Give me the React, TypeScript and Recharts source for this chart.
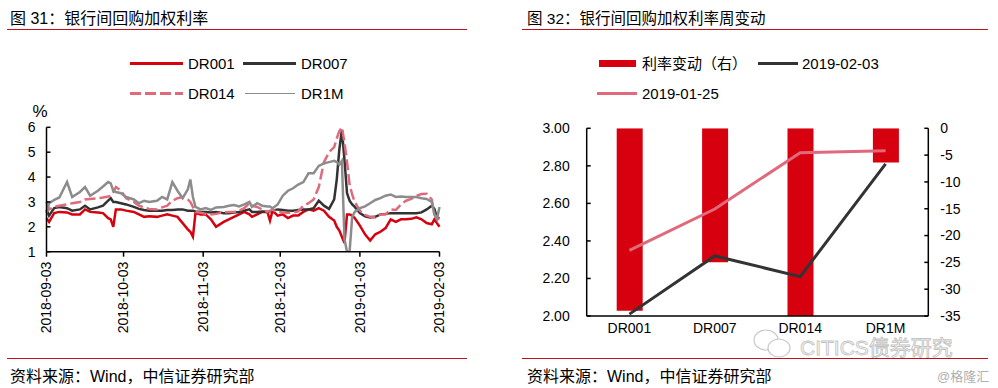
import { Bar, ComposedChart, Line, LineChart, XAxis, YAxis } from 'recharts'

const FONT = '"Liberation Sans", Arial, "Noto Sans CJK SC", sans-serif'
const RED = '#d7000f'
const DARK = '#333333'
const PINK = '#e06a7c'
const GREY = '#8c8c8c'
const RULE = '#c0101a'

// 图31: day offsets from 2018-09-03
const dateTicks = [0, 30, 61, 91, 122, 153]
const dateLabels = ['2018-09-03', '2018-10-03', '2018-11-03', '2018-12-03', '2019-01-03', '2019-02-03']
const rateTicks = [1, 2, 3, 4, 5, 6]

const days = [
  0, 1, 3, 5, 8, 10, 13, 15, 17, 20,
  22, 24, 25, 26, 27, 29, 31, 34, 36, 38,
  40, 43, 45, 47, 49, 51, 53, 55, 56, 57,
  58, 60, 62, 64, 66, 69, 71, 73, 75, 77,
  79, 80, 82, 84, 86, 87, 88, 90, 92, 94,
  96, 98, 100, 102, 104, 106, 108, 110, 112, 113,
  114, 115, 116, 117, 118, 119, 120, 122, 124, 126,
  128, 130, 132, 134, 136, 138, 140, 142, 144, 146,
  148, 150, 151, 152, 153,
]

const dr001 = [
  2.35, 2.2, 2.55, 2.6, 2.58, 2.5, 2.5, 2.7, 2.6, 2.58,
  2.55, 2.35, 2.3, 2.0, 2.7, 2.7, 2.65, 2.6, 2.5, 2.4,
  2.42, 2.4, 2.45, 2.5, 2.45, 2.4, 2.15, 1.9, 1.8, 1.6,
  2.55, 2.5, 2.5, 2.3, 2.0, 2.2, 2.3, 2.4, 2.5, 2.6,
  2.5, 2.4, 2.5, 2.6, 2.6, 2.25, 2.65, 2.45, 2.5, 2.35,
  2.45, 2.45, 2.6, 2.7, 2.65, 2.75, 2.65, 2.4, 2.25, 2.0,
  1.85, 1.6, 1.35, 2.5, 2.5, 2.45, 2.35, 2.05, 1.7, 1.45,
  1.7, 1.8, 1.95, 2.3, 2.2, 2.3, 2.3, 2.32, 2.38, 2.3,
  2.15, 2.1, 2.3, 2.15, 2.0,
]

const dr007 = [
  2.7, 2.45, 2.75, 2.8, 2.75, 2.65, 2.7, 2.85, 2.7, 2.78,
  2.85, 3.05, 3.15, 3.0, 3.0, 2.95, 2.9, 2.8, 2.72, 2.68,
  2.65, 2.65, 2.65, 2.68, 2.68, 2.7, 2.7, 2.65, 2.65, 2.65,
  2.62, 2.6, 2.6, 2.58, 2.6, 2.55, 2.55, 2.58, 2.6, 2.65,
  2.7, 2.6, 2.6, 2.62, 2.6, 2.62, 2.65, 2.7, 2.68, 2.65,
  2.65, 2.68, 2.7, 2.7, 2.75, 3.05, 2.85, 2.72, 3.1, 3.9,
  5.1, 5.9, 4.7, 3.35, 3.05, 2.9, 2.8, 2.55, 2.42, 2.38,
  2.4, 2.5, 2.52, 2.55, 2.55, 2.55, 2.55, 2.55, 2.55, 2.58,
  2.7, 2.85, 2.72, 2.38, 2.35,
]

const dr014 = [
  3.0, 2.7, 2.8, 2.85, 2.9, 2.95, 3.0, 3.1, 3.12, 3.15,
  3.18, 3.22, 3.25, 3.4, 3.6, 3.45, 3.15, 3.0, 2.85, 2.78,
  2.72, 2.7, 2.78, 2.85, 3.05, 3.15, 3.2, 3.1, 3.0, 2.8,
  2.6, 2.57, 2.52, 2.5, 2.52, 2.58, 2.6, 2.6, 2.65, 2.75,
  2.95, 2.85, 2.8, 2.7, 2.6, 2.65, 2.68, 2.6, 2.58, 2.57,
  2.57, 2.62, 2.85, 2.95, 3.1, 3.6, 4.6, 5.0, 5.2, 5.55,
  5.85, 6.0, 5.4, 4.6, 3.7, 3.3, 3.0, 2.65, 2.48, 2.4,
  2.38, 2.5, 2.5, 2.7, 2.68, 2.9, 3.05, 3.12, 3.25, 3.32,
  3.33, 3.1, 2.5, 2.35, 2.3,
]

const dr1m = [
  2.55, 2.95, 3.08, 3.18, 3.8, 3.2, 3.4, 3.6, 3.25, 3.45,
  3.62, 3.8, 3.75, 3.45, 3.4, 3.35, 3.2, 3.1, 2.95, 3.05,
  3.0, 3.05, 3.2, 3.1, 3.8, 3.45, 3.15, 3.5, 3.9, 3.2,
  2.8, 2.7, 2.75, 2.68, 2.78, 2.8, 2.85, 2.88, 2.82, 2.9,
  3.0, 2.8, 2.95, 2.85, 2.82, 2.82, 2.75, 2.9, 3.25, 3.45,
  3.55, 3.7, 3.8, 4.15, 4.15, 4.45, 4.55, 4.6, 4.65, 4.6,
  4.5, 4.65, 1.5, 1.0, 1.0, 2.4, 2.6, 2.75, 2.82, 2.95,
  3.08, 3.15, 3.25, 3.3, 3.2, 3.22, 3.2, 3.2, 3.2, 3.15,
  3.12, 3.0, 2.5, 2.3, 2.8,
]

// 图32
const weeklyCats = ['DR001', 'DR007', 'DR014', 'DR1M']
const weeklyChange = [-34, -25, -66, -6.4]
const rateFeb03 = [2.01, 2.32, 2.21, 2.81]
const rateJan25 = [2.35, 2.57, 2.87, 2.88]
const leftTicks = [2, 2.2, 2.4, 2.6, 2.8, 3]
const rightTicks = [-35, -30, -25, -20, -15, -10, -5, 0]

const trendRows = days.map((day, i) => ({
  day,
  dr001: dr001[i],
  dr007: dr007[i],
  dr014: dr014[i],
  dr1m: dr1m[i],
}))

const weeklyRows = weeklyCats.map((name, i) => ({
  name,
  change: weeklyChange[i],
  feb03: rateFeb03[i],
  jan25: rateJan25[i],
}))

const LeftTick = ({ x, y, payload, gap, fmt }: any) => (
  <g>
    <line x1={x + gap} x2={x + gap + 4} y1={y} y2={y} stroke="#000" strokeWidth={1.5} />
    <text x={x} y={y} dy="0.35em" textAnchor="end" fontSize={14} fontFamily={FONT} fill="#000">
      {fmt ? fmt(payload.value) : payload.value}
    </text>
  </g>
)

const RightTick = ({ x, y, payload, gap }: any) => (
  <g>
    <line x1={x - gap - 4} x2={x - gap} y1={y} y2={y} stroke="#000" strokeWidth={1.5} />
    <text x={x} y={y} dy="0.35em" textAnchor="start" fontSize={14} fontFamily={FONT} fill="#000">
      {payload.value}
    </text>
  </g>
)

const DateTick = ({ x, y, payload }: any) => (
  <text
    x={x}
    y={y}
    dy="0.35em"
    textAnchor="end"
    transform={`rotate(-90, ${x}, ${y})`}
    fontSize={14}
    fontFamily={FONT}
    fill="#000">
    {dateLabels[dateTicks.indexOf(payload.value)]}
  </text>
)

const Overlay = () => (
  <svg
    width={998}
    height={388}
    style={{ position: 'absolute', left: 0, top: 0, pointerEvents: 'none' }}
    fontFamily={FONT}>
    {/* titles */}
    <text x={10} y={24} fontSize={16} fill="#000">图 31：银行间回购加权利率</text>
    <line x1={7} x2={467} y1={29.5} y2={29.5} stroke={RULE} strokeWidth={1.2} />
    <text x={527} y={24} fontSize={15.5} fill="#000">图 32：银行间回购加权利率周变动</text>
    <line x1={522} x2={988} y1={29.5} y2={29.5} stroke={RULE} strokeWidth={1.2} />

    {/* left legend */}
    <line x1={130} x2={183} y1={63.5} y2={63.5} stroke={RED} strokeWidth={3} />
    <text x={188} y={69} fontSize={15} fill="#000">DR001</text>
    <line x1={243} x2={296} y1={63.5} y2={63.5} stroke={DARK} strokeWidth={3} />
    <text x={301} y={69} fontSize={15} fill="#000">DR007</text>
    <line x1={130} x2={183} y1={93.5} y2={93.5} stroke={PINK} strokeWidth={3} strokeDasharray="11 4" />
    <text x={188} y={99} fontSize={15} fill="#000">DR014</text>
    <line x1={245} x2={295} y1={93.5} y2={93.5} stroke={GREY} strokeWidth={1} />
    <text x={301} y={99} fontSize={15} fill="#000">DR1M</text>
    <text x={40} y={117} fontSize={17} textAnchor="middle" fill="#000">%</text>

    {/* right legend */}
    <rect x={599} y={60} width={37} height={7} fill={RED} />
    <text x={642} y={69} fontSize={15} fill="#000">利率变动（右）</text>
    <line x1={758} x2={798} y1={63.5} y2={63.5} stroke={DARK} strokeWidth={3} />
    <text x={802} y={69} fontSize={15} fill="#000">2019-02-03</text>
    <line x1={597} x2={637} y1={93.5} y2={93.5} stroke={PINK} strokeWidth={3} />
    <text x={642} y={99} fontSize={15} fill="#000">2019-01-25</text>

    {/* watermark */}
    <ellipse cx={766} cy={340} rx={12} ry={10} fill="none" stroke="#c8c8c8" strokeWidth={1.2} />
    <ellipse cx={779} cy={348} rx={11} ry={9} fill="#fff" stroke="#c8c8c8" strokeWidth={1.2} />
    <text x={800} y={355} fontSize={21} fill="#fff" stroke="#c4c4c4" strokeWidth={0.9}>CITICS债券研究</text>

    {/* footers */}
    <line x1={7} x2={467} y1={358.5} y2={358.5} stroke={RULE} strokeWidth={1.2} />
    <text x={10} y={381.5} fontSize={16} fill="#000">资料来源：Wind，中信证券研究部</text>
    <line x1={522} x2={988} y1={358.5} y2={358.5} stroke={RULE} strokeWidth={1.2} />
    <text x={527} y={381.5} fontSize={16} fill="#000">资料来源：Wind，中信证券研究部</text>
    <text x={937} y={381} fontSize={13} fill="#b0b0b0">@格隆汇</text>
  </svg>
)

const App = () => {
  return (
    <div style={{ position: 'absolute', left: 0, top: 0, width: 998, height: 388, background: '#fff' }}>
      <div style={{ position: 'absolute', left: 0, top: 0 }}>
        <LineChart
          width={470}
          height={345}
          data={trendRows}
          margin={{ top: 127.3, right: 30.5, bottom: 13.3, left: 6.5 }}>
          <XAxis
            dataKey="day"
            type="number"
            domain={[0, 153]}
            ticks={dateTicks}
            height={80}
            axisLine={{ stroke: '#000', strokeWidth: 1.5 }}
            tickLine={{ stroke: '#000', strokeWidth: 1.5 }}
            tickSize={5}
            tickMargin={5}
            interval={0}
            tick={DateTick}
          />
          <YAxis
            type="number"
            domain={[1, 6]}
            ticks={rateTicks}
            width={40}
            axisLine={{ stroke: '#000', strokeWidth: 1.5 }}
            tickLine={false}
            tickSize={0}
            tickMargin={11}
            interval={0}
            tick={(p: any) => <LeftTick {...p} gap={11} />}
            allowDataOverflow
          />
          <Line dataKey="dr001" stroke={RED} strokeWidth={2.5} dot={false} type="linear" isAnimationActive={false} />
          <Line dataKey="dr007" stroke={DARK} strokeWidth={2.5} dot={false} type="linear" isAnimationActive={false} />
          <Line
            dataKey="dr014"
            stroke={PINK}
            strokeWidth={2.5}
            strokeDasharray="11 4"
            dot={false}
            type="linear"
            isAnimationActive={false}
          />
          <Line dataKey="dr1m" stroke={GREY} strokeWidth={2.5} dot={false} type="linear" isAnimationActive={false} />
        </LineChart>
      </div>

      <div style={{ position: 'absolute', left: 500, top: 0 }}>
        <ComposedChart
          width={498}
          height={350}
          data={weeklyRows}
          margin={{ top: 128.3, right: 19.7, bottom: 4, left: 36.7 }}>
          <XAxis
            dataKey="name"
            height={30}
            axisLine={{ stroke: '#000', strokeWidth: 1.5 }}
            tickLine={false}
            tickSize={0}
            tickMargin={7}
            interval={0}
            tick={{ fontSize: 14, fontFamily: FONT, fill: '#000' }}
          />
          <YAxis
            yAxisId="left"
            type="number"
            domain={[2, 3]}
            ticks={leftTicks}
            width={50}
            axisLine={{ stroke: '#000', strokeWidth: 1.5 }}
            tickLine={false}
            tickSize={0}
            tickMargin={17}
            interval={0}
            tick={(p: any) => <LeftTick {...p} gap={17} fmt={(v: number) => v.toFixed(2)} />}
            allowDataOverflow
          />
          <YAxis
            yAxisId="right"
            orientation="right"
            type="number"
            domain={[-35, 0]}
            ticks={rightTicks}
            width={50}
            axisLine={{ stroke: '#000', strokeWidth: 1.5 }}
            tickLine={false}
            tickSize={0}
            tickMargin={12}
            interval={0}
            tick={(p: any) => <RightTick {...p} gap={12} />}
            allowDataOverflow
          />
          <Bar yAxisId="right" dataKey="change" fill={RED} barSize={26} isAnimationActive={false} />
          <Line
            yAxisId="left"
            dataKey="feb03"
            stroke={DARK}
            strokeWidth={3}
            dot={false}
            type="linear"
            isAnimationActive={false}
          />
          <Line
            yAxisId="left"
            dataKey="jan25"
            stroke={PINK}
            strokeWidth={3}
            dot={false}
            type="linear"
            isAnimationActive={false}
          />
        </ComposedChart>
      </div>

      <Overlay />
    </div>
  )
}

export default App
